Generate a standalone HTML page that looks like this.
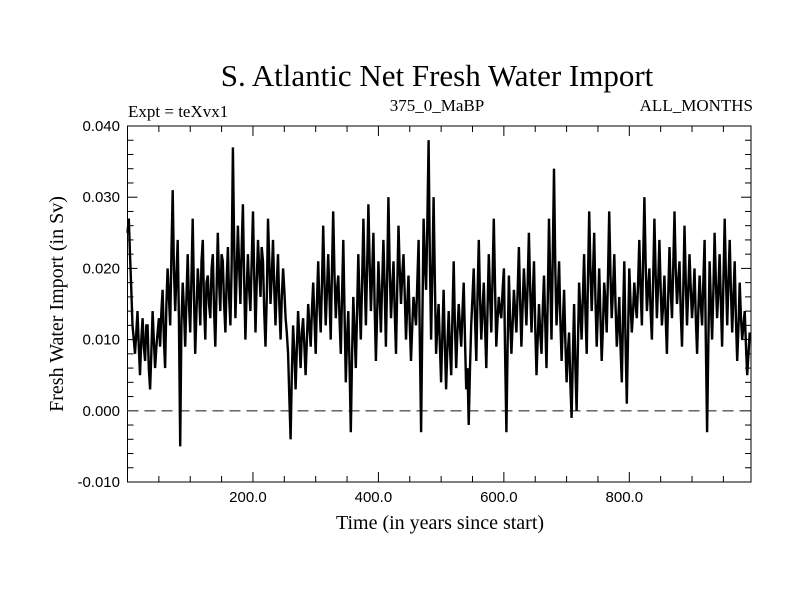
<!DOCTYPE html>
<html><head><meta charset="utf-8"><style>
body{margin:0;background:#fff}
svg{display:block;font-family:"Liberation Serif",serif}
</style></head><body>
<svg id="chart" width="800" height="600" viewBox="0 0 800 600">
<rect width="800" height="600" fill="#fff"/>
<text x="437" y="86" font-size="31" text-anchor="middle">S. Atlantic Net Fresh Water Import</text>
<text x="128" y="117" font-size="17">Expt = teXvx1</text>
<text x="437" y="111" font-size="17" text-anchor="middle">375_0_MaBP</text>
<text x="753" y="111" font-size="17" text-anchor="end">ALL_MONTHS</text>
<text x="440" y="529" font-size="20" text-anchor="middle">Time (in years since start)</text>
<text transform="translate(63,304) rotate(-90)" font-size="20" text-anchor="middle">Fresh Water Import (in Sv)</text>
<g id="axes"></g>
<g id="series"></g>
</svg>
<script>
const yearStart = 0;
const yearStep = 2;
const importValues = [
25,27,22,17,12,10,8,11,14,9,5,10,13,9,7,12,12,6,3,8,14,10,6,9,11,13,9,14,17,10,6,15,
20,16,12,22,31,20,14,19,24,13,-5,12,18,14,9,16,22,15,11,19,27,16,8,14,20,17,12,21,24,15,10,18,
19,15,13,20,22,14,9,17,25,18,14,22,21,15,11,18,23,16,12,20,37,24,13,19,26,20,15,23,29,18,10,17,
22,17,14,21,28,19,11,18,24,20,16,23,21,14,9,16,27,21,15,19,24,17,12,18,22,15,10,16,20,17,13,11,
8,2,-4,5,12,8,3,9,14,10,6,11,13,9,5,10,15,12,9,14,18,13,8,15,21,15,11,18,26,18,12,17,
22,16,10,20,28,19,13,17,19,13,8,16,24,14,4,10,14,6,-3,8,16,11,6,14,22,15,10,18,27,19,12,20,
29,21,14,19,25,15,7,14,21,16,11,18,24,17,9,19,30,20,13,17,21,14,8,17,26,20,15,19,22,16,10,15,
19,12,7,12,16,14,12,18,24,10,-3,12,27,21,17,26,38,22,10,20,30,18,8,12,15,9,4,11,17,9,3,9,
14,9,5,13,21,12,6,11,15,12,9,14,18,10,3,6,-2,6,12,16,20,13,7,16,24,16,10,14,18,12,6,14,
22,16,11,19,27,17,9,13,16,14,13,17,20,8,-3,9,19,13,8,12,17,14,11,17,23,15,9,15,20,16,12,18,
25,17,11,16,21,12,5,10,15,11,8,14,19,12,6,16,27,18,10,22,34,20,12,16,21,13,7,12,17,10,4,8,
11,4,-1,8,15,6,0,9,18,14,10,16,22,14,8,18,28,20,14,19,25,16,9,14,20,13,7,12,18,15,11,19,
28,19,13,17,22,15,9,12,16,9,4,13,21,10,1,11,20,15,11,14,18,15,13,18,24,17,12,21,30,21,14,17,
20,14,10,18,27,19,13,18,24,17,12,15,19,13,8,16,23,17,13,20,28,20,15,18,21,14,9,17,26,18,12,17,
22,17,13,16,20,13,8,14,19,15,12,18,24,10,-3,9,21,15,10,17,25,18,13,17,22,15,9,18,27,19,12,18,
24,17,11,16,21,13,7,12,18,13,10,12,14,9,5,8,11
];
const yTickValues = [-0.010, 0.000, 0.010, 0.020, 0.030, 0.040];
const yTickLabels = ["-0.010","0.000","0.010","0.020","0.030","0.040"];
const xTickValues = [200, 400, 600, 800];
const xTickLabels = ["200.0","400.0","600.0","800.0"];

const NS="http://www.w3.org/2000/svg";
const L=127.5,R=751,T=126,B=482;
const xMin=0,xMax=994,yMin=-0.010,yMax=0.040;
const xs=v=>L+(v-xMin)/(xMax-xMin)*(R-L);
const ys=v=>B-(v-yMin)/(yMax-yMin)*(B-T);
function mk(tag,attrs,parent){const e=document.createElementNS(NS,tag);for(const k in attrs)e.setAttribute(k,attrs[k]);parent.appendChild(e);return e;}
const axes=document.getElementById('axes');
const frame=mk('rect',{x:L,y:T,width:R-L,height:B-T,fill:'none',stroke:'#000','stroke-width':1},axes);


for(let v=50;v<xMax;v+=50){const x=xs(v);const len=(v%200===0)?10:6;
 const t1=mk('line',{x1:x,y1:B,x2:x,y2:B-len,stroke:'#000'},axes);
 
 
 const t2=mk('line',{x1:x,y1:T,x2:x,y2:T+len,stroke:'#000'},axes);
 
 }
for(let i=0;i<=25;i++){const v=yMin+i*0.002;const y=ys(v);const len=(i%5===0)?10:6;
 const t1=mk('line',{x1:L,y1:y,x2:L+len,y2:y,stroke:'#000'},axes);
 
 
 const t2=mk('line',{x1:R,y1:y,x2:R-len,y2:y,stroke:'#000'},axes);
 
 }
yTickValues.forEach((v,i)=>{const t=mk('text',{x:120,y:ys(v)+5,'font-size':15,'font-family':'Liberation Sans, sans-serif','text-anchor':'end'},axes);t.textContent=yTickLabels[i];
 
 });
xTickValues.forEach((v,i)=>{const t=mk('text',{x:xs(v)-5,y:502,'font-size':15,'font-family':'Liberation Sans, sans-serif','text-anchor':'middle'},axes);t.textContent=xTickLabels[i];
 
 });
const zero=mk('line',{x1:L,y1:ys(0),x2:R,y2:ys(0),stroke:'#555','stroke-width':1.3,'stroke-dasharray':'11 6'},axes);


const pts=importValues.map((v,i)=>xs(yearStart+i*yearStep).toFixed(1)+','+ys(v/1000).toFixed(1)).join(' ');
const line=mk('polyline',{points:pts,fill:'none',stroke:'#000','stroke-width':2.4,'stroke-linejoin':'miter'},document.getElementById('series'));


</script>
</body></html>
